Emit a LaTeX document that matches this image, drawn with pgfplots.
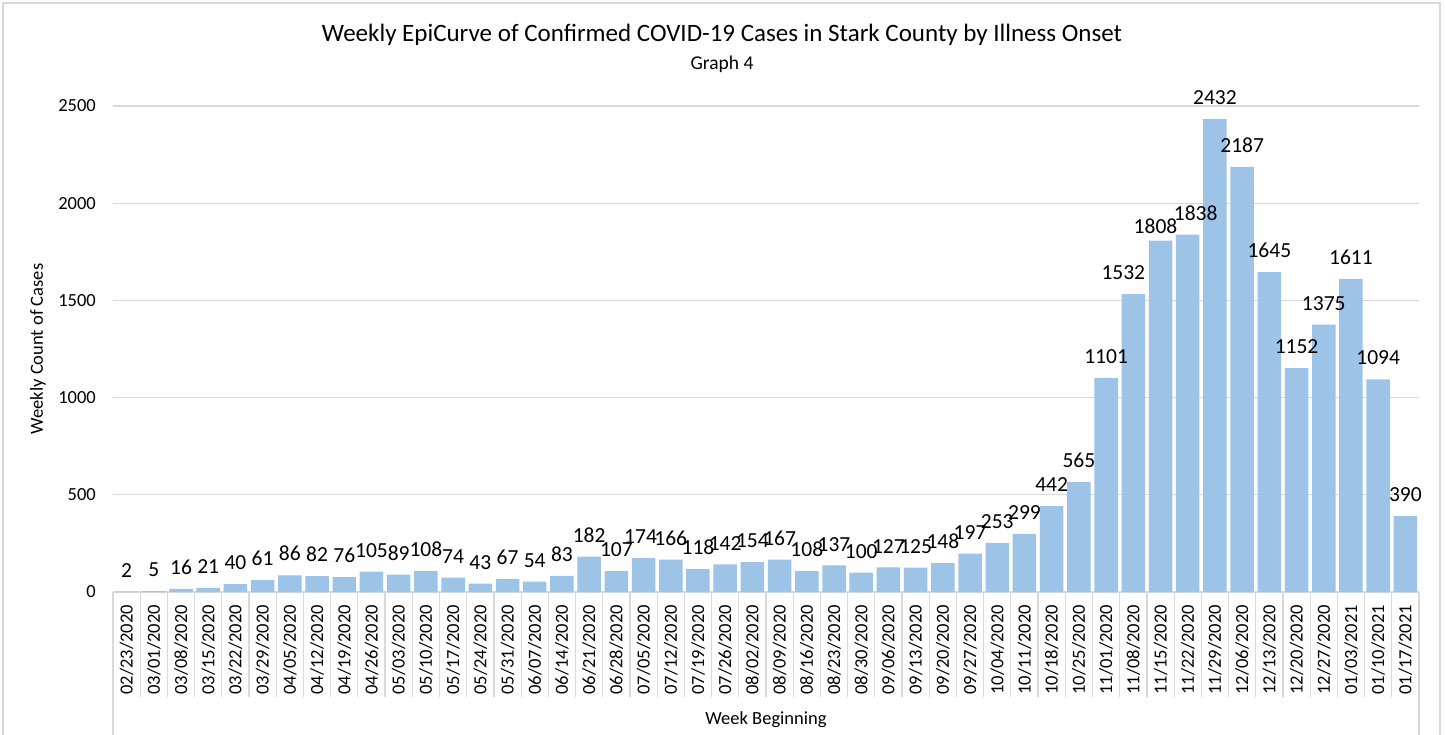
\documentclass[border=0pt]{standalone}
\usepackage{pgfplots}
\usepackage{pgfplotstable}
\pgfplotsset{compat=1.18}
\usepackage{fontspec}
\setmainfont{Carlito}
\definecolor{barblue}{RGB}{157,195,230}
\definecolor{gridgray}{RGB}{217,217,217}
\pgfplotstableread{
x y dx dy
0 2 0 0
1 5 0 0
2 16 0 0
3 21 0 0
4 40 0 0
5 61 0 0
6 86 0 0
7 82 0 0
8 76 0 0
9 105 0 0
10 89 0 0
11 108 0 0
12 74 0 0
13 43 0 0
14 67 0 0
15 54 0 0
16 83 0 0
17 182 0 0
18 107 0 0
19 174 -3 0
20 166 0 0
21 118 0 0
22 142 0 0
23 154 0 0
24 167 0 0
25 108 0 0
26 137 0 0
27 100 0 0
28 127 0 0
29 125 0 0
30 148 0 0
31 197 0 0
32 253 0 0
33 299 0 0
34 442 0 0
35 565 0 0
36 1101 0 0
37 1532 -10 0
38 1808 -5 -7
39 1838 8 0
40 2432 0 0
41 2187 0 0
42 1645 0 0
43 1152 0 0
44 1375 0 0
45 1611 0 0
46 1094 0 0
47 390 0 0
}\data
\begin{document}
\begin{tikzpicture}[x=1pt,y=1pt]
\path[use as bounding box] (-113,-142) rectangle (1332,592);
\draw[gridgray, line width=1.5pt] (-110,-160) -- (-110,589) -- (1327,589) -- (1327,-160);
\begin{axis}[
  at={(0,0)}, anchor=south west,
  scale only axis, width=1306pt, height=486pt,
  xmin=-0.5, xmax=47.5, ymin=0, ymax=2500,
  axis lines=left,
  y axis line style={draw=none},
  x axis line style={gridgray, line width=1.2pt, -},
  ytick={0,500,...,2500},
  ymajorgrids, grid style={gridgray, line width=1.1pt},
  major tick length=0pt,
  tick align=outside,
  xtick={0,...,47},
  xticklabels={02/23/2020,03/01/2020,03/08/2020,03/15/2020,03/22/2020,03/29/2020,04/05/2020,04/12/2020,04/19/2020,04/26/2020,05/03/2020,05/10/2020,05/17/2020,05/24/2020,05/31/2020,06/07/2020,06/14/2020,06/21/2020,06/28/2020,07/05/2020,07/12/2020,07/19/2020,07/26/2020,08/02/2020,08/09/2020,08/16/2020,08/23/2020,08/30/2020,09/06/2020,09/13/2020,09/20/2020,09/27/2020,10/04/2020,10/11/2020,10/18/2020,10/25/2020,11/01/2020,11/08/2020,11/15/2020,11/22/2020,11/29/2020,12/06/2020,12/13/2020,12/20/2020,12/27/2020,01/03/2021,01/10/2021,01/17/2021},
  minor xtick={-0.5,0.5,...,47.5},
  minor x tick style={gridgray, line width=1.2pt},
  minor tick length=105pt,
  x tick label style={rotate=90, anchor=east, inner sep=0pt, font=\fontsize{18.5}{22}\selectfont},
  xticklabel shift=13pt,
  y tick label style={inner sep=0pt, font=\fontsize{18.5}{22}\selectfont},
  yticklabel shift=17pt,
  /pgf/number format/assume math mode=true,
  /pgf/number format/1000 sep={},
  every axis y label/.style={at={([xshift=-75pt]axis description cs:0,0.5)}, rotate=90, anchor=center, font=\fontsize{18.5}{22}\selectfont},
  every axis x label/.style={at={([yshift=-128pt]axis description cs:0.5,0)}, anchor=center, font=\fontsize{18.5}{22}\selectfont},
  ylabel={Weekly Count of Cases},
  xlabel={Week Beginning},
  clip=false,
]
\addplot[ybar, bar width=23.5pt, fill=barblue, draw=none,
  visualization depends on={\thisrow{dx} \as \dx},
  visualization depends on={\thisrow{dy} \as \dy},
  nodes near coords,
  nodes near coords style={font=\fontsize{21.5}{24}\selectfont, inner sep=0pt, anchor=south, xshift={\dx*1pt}, yshift={(14+\dy)*1pt}, text=black}]
  table[x=x, y=y] {\data};
\end{axis}
\draw[gridgray, line width=1.2pt] (0,0) -- (0,-150);
\draw[gridgray, line width=1.2pt] (1306,0) -- (1306,-150);
\node[anchor=base, font=\fontsize{25}{28}\selectfont] at (609,550) {Weekly EpiCurve of Confirmed COVID-19 Cases in Stark County by Illness Onset};
\node[anchor=base, font=\fontsize{19.5}{22}\selectfont] at (609,522) {Graph 4};
\end{tikzpicture}
\end{document}
